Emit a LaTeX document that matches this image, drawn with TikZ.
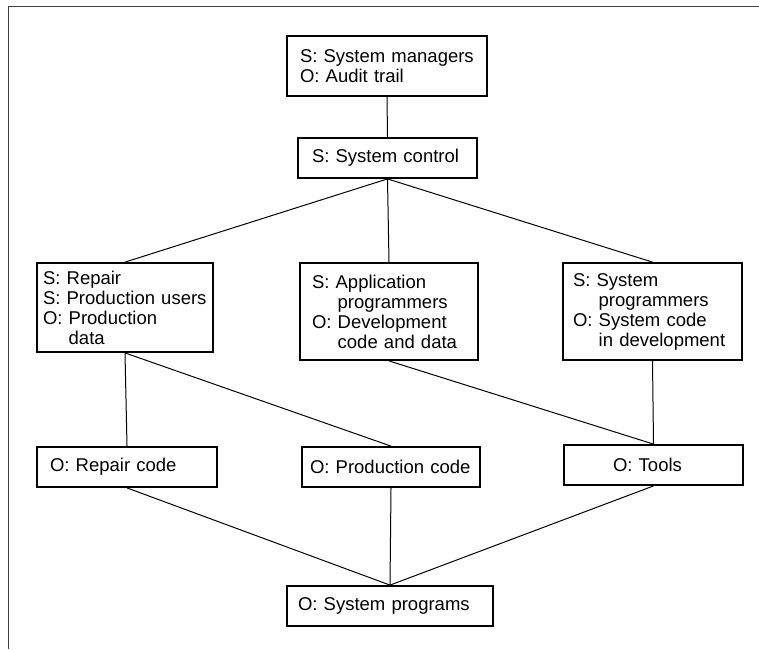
\documentclass[tikz,border=0pt]{standalone}
\usepackage{fontspec}
\setmainfont{Liberation Sans}
\newcommand{\ind}{\hphantom{O: }}

\begin{document}
\begin{tikzpicture}
  [
    x=1pt, y=-1pt,
    box/.style={draw, black, line width=1.8pt, align=left, inner ysep=0pt,
      font=\fontsize{18.5}{20}\selectfont},
    edge/.style={black, line width=1pt},
  ]

  \useasboundingbox (0,0) rectangle (759,649);

  % frame
  \draw [black!75, line width=1pt] (8,649) -- (8,6) -- (759,6);

  % subjects and objects
  \node [box, text width=174pt, inner xsep=13pt, minimum height=60pt] (managers) at (387,66)
    {S: System managers\\O: Audit trail};
  \node [box, text width=151pt, inner xsep=14pt, minimum height=40pt] (control) at (387.5,158)
    {S: System control};
  \node [box, text width=164pt, inner xsep=6pt, minimum height=89pt] (repair) at (125,307.5)
    {S: Repair\\S: Production users\\O: Production\\\ind data};
  \node [box, text width=154pt, inner xsep=12pt, minimum height=97pt] (application) at (389,311.5)
    {S: Application\\\ind programmers\\O: Development\\\ind code and data};
  \node [box, text width=159pt, inner xsep=10pt, minimum height=97pt] (sysprog) at (652.5,311.5)
    {S: System\\\ind programmers\\O: System code\\\ind in development};
  \node [box, text width=154pt, inner xsep=13pt, minimum height=40pt] (repaircode) at (127,467)
    {O: Repair code};
  \node [box, text width=162pt, inner xsep=8pt, minimum height=40pt] (prodcode) at (391,467)
    {O: Production code};
  \node [box, text width=81pt, inner xsep=49pt, minimum height=40pt] (tools) at (653.5,465)
    {O: Tools};
  \node [box, text width=184pt, inner xsep=11pt, minimum height=40pt] (programs) at (390,606)
    {O: System programs};

  % edges
  \draw [edge] (managers.south) -- (control.north);
  \foreach \n in {repair, application, sysprog} {
    \draw [edge] (control.south) -- (\n.north);
  }
  \draw [edge] (repair.south) -- (repaircode.north);
  \draw [edge] (repair.south) -- (prodcode.north);
  \draw [edge] (application.south) -- (tools.north);
  \draw [edge] (sysprog.south) -- (tools.north);
  \foreach \n in {repaircode, prodcode, tools} {
    \draw [edge] (\n.south) -- (programs.north);
  }

\end{tikzpicture}
\end{document}
